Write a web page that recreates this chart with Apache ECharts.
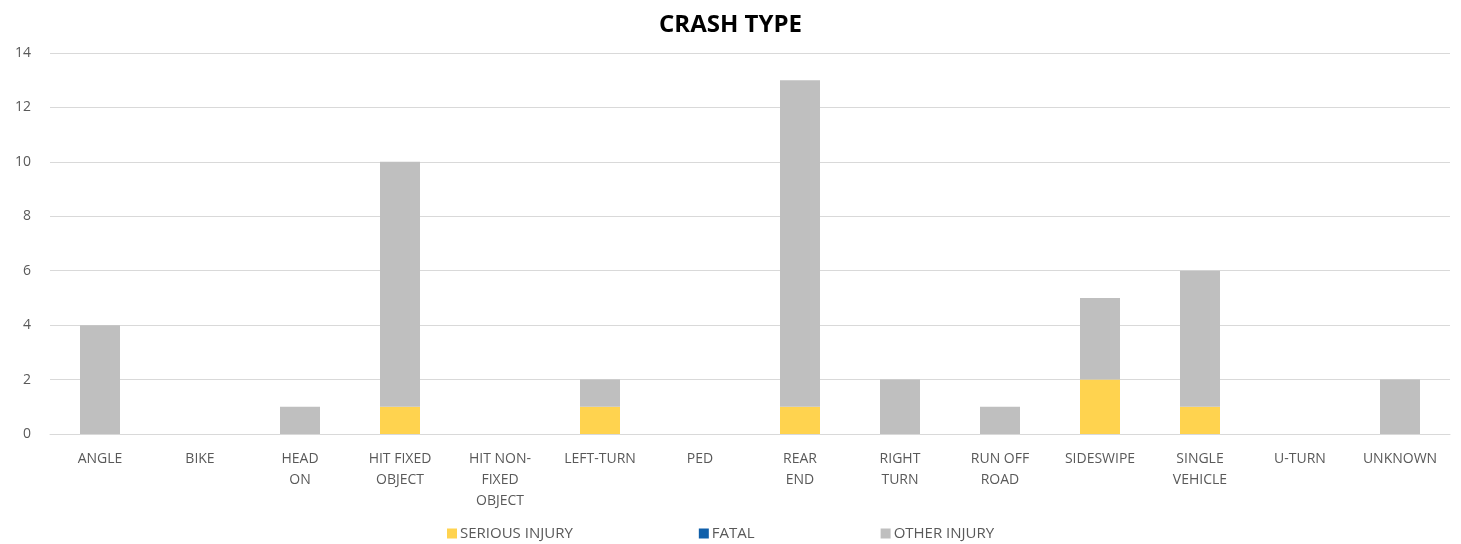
<!DOCTYPE html>
<html>
<head>
<meta charset="utf-8">
<script src="https://cdn.jsdelivr.net/npm/echarts@6/dist/echarts.min.js"></script>
<style>
html,body{margin:0;padding:0;background:#fff;}
#chart{width:1461px;height:544px;}
</style>
</head>
<body>
<div id="chart"></div>
<script>
const categories = ["ANGLE","BIKE","HEAD\nON","HIT FIXED\nOBJECT","HIT NON-\nFIXED\nOBJECT","LEFT-TURN","PED","REAR\nEND","RIGHT\nTURN","RUN OFF\nROAD","SIDESWIPE","SINGLE\nVEHICLE","U-TURN","UNKNOWN"];
const seriousInjury = [0,0,0,1,0,1,0,1,0,0,2,1,0,0];
const fatal = [0,0,0,0,0,0,0,0,0,0,0,0,0,0];
const otherInjury = [4,0,1,9,0,1,0,12,2,1,3,5,0,2];
const yTicks = [0,2,4,6,8,10,12,14];

const font = '"Open Sans", "Liberation Sans", sans-serif';
const chart = echarts.init(document.getElementById('chart'));
chart.setOption({
  animation: false,
  title: {
    text: 'CRASH TYPE', left: 'center', top: 8,
    textStyle: {fontFamily: font, fontWeight: 'bold', fontSize: 24, color: '#000'}
  },
  legend: {
    bottom: -2, left: 442, itemWidth: 10, itemHeight: 10, itemGap: 126,
    icon: 'rect',
    textStyle: {fontFamily: font, fontSize: 15, color: '#595959', padding: [0,0,0,-2]},
    data: ['SERIOUS INJURY','FATAL','OTHER INJURY']
  },
  grid: {left: 50, right: 11, top: 53, bottom: 110},
  xAxis: {
    type: 'category', data: categories,
    axisLine: {lineStyle: {color: '#D9D9D9'}},
    axisTick: {show: false},
    axisLabel: {fontFamily: font, fontSize: 14, color: '#595959', margin: 15, lineHeight: 21, interval: 0}
  },
  yAxis: {
    type: 'value', min: yTicks[0], max: yTicks[yTicks.length-1], interval: 2,
    axisLine: {show: false}, axisTick: {show: false},
    axisLabel: {fontFamily: font, fontSize: 14, color: '#595959', margin: 19},
    splitLine: {lineStyle: {color: '#D9D9D9', width: 1}}
  },
  series: [
    {name: 'SERIOUS INJURY', type: 'bar', stack: 't', data: seriousInjury, barWidth: 40, itemStyle: {color: '#FFD34F'}},
    {name: 'FATAL', type: 'bar', stack: 't', data: fatal, barWidth: 40, itemStyle: {color: '#0F5FAA'}},
    {name: 'OTHER INJURY', type: 'bar', stack: 't', data: otherInjury, barWidth: 40, itemStyle: {color: '#BFBFBF'}}
  ]
});
</script>
</body>
</html>
